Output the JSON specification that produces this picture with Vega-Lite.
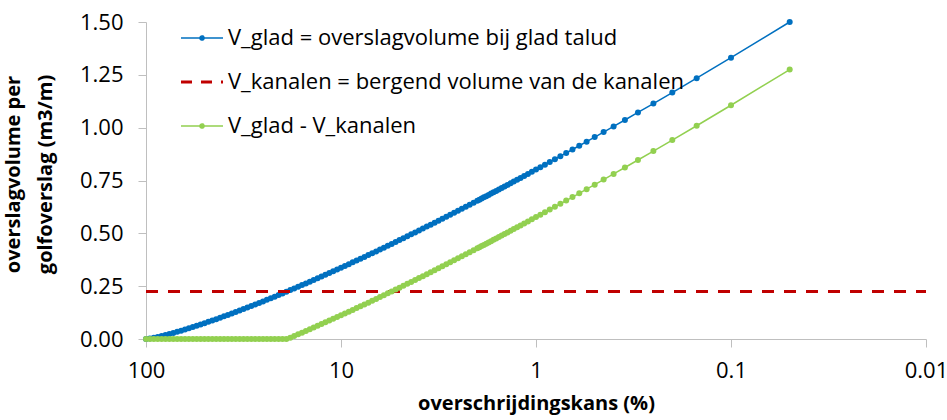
{
  "$schema": "https://vega.github.io/schema/vega-lite/v6.json",
  "width": 780,
  "height": 317,
  "autosize": "none",
  "padding": {"left": 146, "top": 22, "right": 21, "bottom": 81},
  "background": "white",
  "config": {
    "view": {"stroke": null},
    "font": "Open Sans",
    "axis": {
      "domainColor": "#BFBFBF",
      "tickColor": "#BFBFBF",
      "labelColor": "#000000",
      "titleColor": "#000000",
      "labelFont": "Open Sans",
      "titleFont": "Open Sans",
      "labelFontSize": 22,
      "titleFontSize": 20,
      "titleFontWeight": "bold",
      "grid": false,
      "tickSize": 8,
      "domainWidth": 1,
      "tickWidth": 1,
      "labelFlush": false,
      "labelOverlap": false
    }
  },
  "datasets": {
    "curves": [
      {"p": 100, "glad": 0, "verschil": 0},
      {"p": 95.499, "glad": 0.0025, "verschil": 0},
      {"p": 91.201, "glad": 0.0060, "verschil": 0},
      {"p": 87.096, "glad": 0.0100, "verschil": 0},
      {"p": 83.176, "glad": 0.0143, "verschil": 0},
      {"p": 79.433, "glad": 0.0190, "verschil": 0},
      {"p": 75.858, "glad": 0.0238, "verschil": 0},
      {"p": 72.444, "glad": 0.0289, "verschil": 0},
      {"p": 69.183, "glad": 0.0341, "verschil": 0},
      {"p": 66.069, "glad": 0.0395, "verschil": 0},
      {"p": 63.096, "glad": 0.0451, "verschil": 0},
      {"p": 60.256, "glad": 0.0508, "verschil": 0},
      {"p": 57.544, "glad": 0.0566, "verschil": 0},
      {"p": 54.954, "glad": 0.0626, "verschil": 0},
      {"p": 52.481, "glad": 0.0687, "verschil": 0},
      {"p": 50.119, "glad": 0.0749, "verschil": 0},
      {"p": 47.863, "glad": 0.0811, "verschil": 0},
      {"p": 45.709, "glad": 0.0875, "verschil": 0},
      {"p": 43.652, "glad": 0.0940, "verschil": 0},
      {"p": 41.687, "glad": 0.1006, "verschil": 0},
      {"p": 39.811, "glad": 0.1072, "verschil": 0},
      {"p": 38.019, "glad": 0.1140, "verschil": 0},
      {"p": 36.308, "glad": 0.1208, "verschil": 0},
      {"p": 34.674, "glad": 0.1277, "verschil": 0},
      {"p": 33.113, "glad": 0.1347, "verschil": 0},
      {"p": 31.623, "glad": 0.1417, "verschil": 0},
      {"p": 30.200, "glad": 0.1489, "verschil": 0},
      {"p": 28.840, "glad": 0.1561, "verschil": 0},
      {"p": 27.542, "glad": 0.1633, "verschil": 0},
      {"p": 26.303, "glad": 0.1706, "verschil": 0},
      {"p": 25.119, "glad": 0.1780, "verschil": 0},
      {"p": 23.988, "glad": 0.1855, "verschil": 0},
      {"p": 22.909, "glad": 0.1930, "verschil": 0},
      {"p": 21.878, "glad": 0.2005, "verschil": 0},
      {"p": 20.893, "glad": 0.2082, "verschil": 0},
      {"p": 19.953, "glad": 0.2158, "verschil": 0},
      {"p": 19.055, "glad": 0.2236, "verschil": 0},
      {"p": 18.197, "glad": 0.2314, "verschil": 0.0064},
      {"p": 17.378, "glad": 0.2392, "verschil": 0.0142},
      {"p": 16.596, "glad": 0.2471, "verschil": 0.0221},
      {"p": 15.849, "glad": 0.2551, "verschil": 0.0301},
      {"p": 15.136, "glad": 0.2630, "verschil": 0.0380},
      {"p": 14.454, "glad": 0.2711, "verschil": 0.0461},
      {"p": 13.804, "glad": 0.2792, "verschil": 0.0542},
      {"p": 13.183, "glad": 0.2873, "verschil": 0.0623},
      {"p": 12.589, "glad": 0.2955, "verschil": 0.0705},
      {"p": 12.023, "glad": 0.3037, "verschil": 0.0787},
      {"p": 11.482, "glad": 0.3120, "verschil": 0.0870},
      {"p": 10.965, "glad": 0.3203, "verschil": 0.0953},
      {"p": 10.471, "glad": 0.3287, "verschil": 0.1037},
      {"p": 10.000, "glad": 0.3371, "verschil": 0.1121},
      {"p": 9.5499, "glad": 0.3456, "verschil": 0.1206},
      {"p": 9.1201, "glad": 0.3540, "verschil": 0.1290},
      {"p": 8.7096, "glad": 0.3626, "verschil": 0.1376},
      {"p": 8.3176, "glad": 0.3711, "verschil": 0.1461},
      {"p": 7.9433, "glad": 0.3798, "verschil": 0.1548},
      {"p": 7.5858, "glad": 0.3884, "verschil": 0.1634},
      {"p": 7.2444, "glad": 0.3971, "verschil": 0.1721},
      {"p": 6.9183, "glad": 0.4058, "verschil": 0.1808},
      {"p": 6.6069, "glad": 0.4146, "verschil": 0.1896},
      {"p": 6.3096, "glad": 0.4234, "verschil": 0.1984},
      {"p": 6.0256, "glad": 0.4322, "verschil": 0.2072},
      {"p": 5.7544, "glad": 0.4411, "verschil": 0.2161},
      {"p": 5.4954, "glad": 0.4500, "verschil": 0.2250},
      {"p": 5.2481, "glad": 0.4590, "verschil": 0.2340},
      {"p": 5.0119, "glad": 0.4679, "verschil": 0.2429},
      {"p": 4.7863, "glad": 0.4770, "verschil": 0.2520},
      {"p": 4.5709, "glad": 0.4860, "verschil": 0.2610},
      {"p": 4.3652, "glad": 0.4951, "verschil": 0.2701},
      {"p": 4.1687, "glad": 0.5042, "verschil": 0.2792},
      {"p": 3.9811, "glad": 0.5134, "verschil": 0.2884},
      {"p": 3.8019, "glad": 0.5225, "verschil": 0.2975},
      {"p": 3.6308, "glad": 0.5318, "verschil": 0.3068},
      {"p": 3.4674, "glad": 0.5410, "verschil": 0.3160},
      {"p": 3.3113, "glad": 0.5503, "verschil": 0.3253},
      {"p": 3.1623, "glad": 0.5596, "verschil": 0.3346},
      {"p": 3.0200, "glad": 0.5689, "verschil": 0.3439},
      {"p": 2.8840, "glad": 0.5783, "verschil": 0.3533},
      {"p": 2.7542, "glad": 0.5877, "verschil": 0.3627},
      {"p": 2.6303, "glad": 0.5972, "verschil": 0.3722},
      {"p": 2.5119, "glad": 0.6066, "verschil": 0.3816},
      {"p": 2.3988, "glad": 0.6161, "verschil": 0.3911},
      {"p": 2.2909, "glad": 0.6256, "verschil": 0.4006},
      {"p": 2.1878, "glad": 0.6352, "verschil": 0.4102},
      {"p": 2.0893, "glad": 0.6448, "verschil": 0.4198},
      {"p": 2.00, "glad": 0.6539, "verschil": 0.4289},
      {"p": 1.95, "glad": 0.6592, "verschil": 0.4342},
      {"p": 1.90, "glad": 0.6646, "verschil": 0.4396},
      {"p": 1.85, "glad": 0.6702, "verschil": 0.4452},
      {"p": 1.80, "glad": 0.6760, "verschil": 0.4510},
      {"p": 1.75, "glad": 0.6819, "verschil": 0.4569},
      {"p": 1.70, "glad": 0.6880, "verschil": 0.4630},
      {"p": 1.65, "glad": 0.6943, "verschil": 0.4693},
      {"p": 1.60, "glad": 0.7008, "verschil": 0.4758},
      {"p": 1.55, "glad": 0.7076, "verschil": 0.4826},
      {"p": 1.50, "glad": 0.7145, "verschil": 0.4895},
      {"p": 1.45, "glad": 0.7218, "verschil": 0.4968},
      {"p": 1.40, "glad": 0.7292, "verschil": 0.5042},
      {"p": 1.35, "glad": 0.7370, "verschil": 0.5120},
      {"p": 1.30, "glad": 0.7451, "verschil": 0.5201},
      {"p": 1.25, "glad": 0.7535, "verschil": 0.5285},
      {"p": 1.20, "glad": 0.7623, "verschil": 0.5373},
      {"p": 1.15, "glad": 0.7715, "verschil": 0.5465},
      {"p": 1.10, "glad": 0.7811, "verschil": 0.5561},
      {"p": 1.05, "glad": 0.7912, "verschil": 0.5662},
      {"p": 1.00, "glad": 0.8018, "verschil": 0.5768},
      {"p": 0.95, "glad": 0.8130, "verschil": 0.5880},
      {"p": 0.90, "glad": 0.8248, "verschil": 0.5998},
      {"p": 0.85, "glad": 0.8373, "verschil": 0.6123},
      {"p": 0.80, "glad": 0.8506, "verschil": 0.6256},
      {"p": 0.75, "glad": 0.8649, "verschil": 0.6399},
      {"p": 0.70, "glad": 0.8801, "verschil": 0.6551},
      {"p": 0.65, "glad": 0.8966, "verschil": 0.6716},
      {"p": 0.60, "glad": 0.9145, "verschil": 0.6895},
      {"p": 0.55, "glad": 0.9339, "verschil": 0.7089},
      {"p": 0.50, "glad": 0.9554, "verschil": 0.7304},
      {"p": 0.45, "glad": 0.9792, "verschil": 0.7542},
      {"p": 0.40, "glad": 1.0059, "verschil": 0.7809},
      {"p": 0.35, "glad": 1.0364, "verschil": 0.8114},
      {"p": 0.30, "glad": 1.0719, "verschil": 0.8469},
      {"p": 0.25, "glad": 1.1141, "verschil": 0.8891},
      {"p": 0.20, "glad": 1.1662, "verschil": 0.9412},
      {"p": 0.15, "glad": 1.2341, "verschil": 1.0091},
      {"p": 0.10, "glad": 1.3310, "verschil": 1.1060},
      {"p": 0.05, "glad": 1.5000, "verschil": 1.2750}
    ],
    "kanalen": [
      {"p": 100, "kanalen": 0.225},
      {"p": 0.01, "kanalen": 0.225}
    ]
  },
  "data": {"name": "curves"},
  "encoding": {
    "x": {
      "field": "p",
      "type": "quantitative",
      "scale": {"type": "log", "domain": [0.01, 100], "reverse": true},
      "axis": {
        "values": [100, 10, 1, 0.1, 0.01],
        "format": "~g",
        "title": "overschrijdingskans (%)",
        "labelPadding": 13,
        "titlePadding": 12
      }
    },
    "y": {
      "field": "val",
      "type": "quantitative",
      "scale": {"domain": [0, 1.5]},
      "axis": {
        "values": [0, 0.25, 0.5, 0.75, 1, 1.25, 1.5],
        "format": ".2f",
        "title": ["overslagvolume per", "golfoverslag (m3/m)"],
        "titleLineHeight": 32,
        "labelPadding": 15,
        "titlePadding": 24,
        "titleY": 152
      }
    },
    "color": {
      "field": "series",
      "type": "nominal",
      "scale": {"domain": ["glad", "kanalen", "verschil"], "range": ["#0070C0", "#C00000", "#92D050"]},
      "legend": {
        "title": null,
        "orient": "none",
        "legendX": 45,
        "legendY": 5,
        "direction": "vertical",
        "labelFont": "Open Sans",
        "labelFontSize": 22,
        "labelColor": "#000000",
        "labelOffset": 15,
        "labelLimit": 700,
        "rowPadding": 22,
        "symbolType": "stroke",
        "symbolSize": 1764,
        "symbolStrokeWidth": 1.5,
        "labelExpr": "datum.value == 'glad' ? 'V_glad = overslagvolume bij glad talud' : datum.value == 'kanalen' ? 'V_kanalen = bergend volume van de kanalen' : 'V_glad - V_kanalen'",
        "encode": {
          "symbols": {
            "update": {
              "size": {"value": 1764},
              "shape": {"signal": "datum.value == 'kanalen' ? 'stroke' : 'M-1,0L1,0M-0.1,0A0.1,0.1,0,1,1,0.1,0A0.1,0.1,0,1,1,-0.1,0'"},
              "fill": {"signal": "datum.value == 'kanalen' ? 'transparent' : scale('color', datum.value)"},
              "stroke": {"signal": "scale('color', datum.value)"},
              "strokeDash": {"signal": "datum.value == 'kanalen' ? [11, 9] : [1, 0]"},
              "strokeWidth": {"signal": "datum.value == 'kanalen' ? 3 : 1.5"},
              "opacity": {"value": 1}
            }
          }
        }
      }
    }
  },
  "layer": [
    {
      "transform": [{"fold": ["glad"], "as": ["series", "val"]}],
      "mark": {"type": "line", "strokeWidth": 1.5}
    },
    {
      "transform": [{"fold": ["glad"], "as": ["series", "val"]}],
      "mark": {"type": "point", "filled": true, "size": 36, "opacity": 1}
    },
    {
      "data": {"name": "kanalen"},
      "transform": [{"fold": ["kanalen"], "as": ["series", "val"]}],
      "mark": {"type": "line", "strokeWidth": 3, "strokeDash": [12, 10]}
    },
    {
      "transform": [{"fold": ["verschil"], "as": ["series", "val"]}],
      "mark": {"type": "line", "strokeWidth": 1.5}
    },
    {
      "transform": [{"fold": ["verschil"], "as": ["series", "val"]}],
      "mark": {"type": "point", "filled": true, "size": 36, "opacity": 1}
    }
  ]
}
